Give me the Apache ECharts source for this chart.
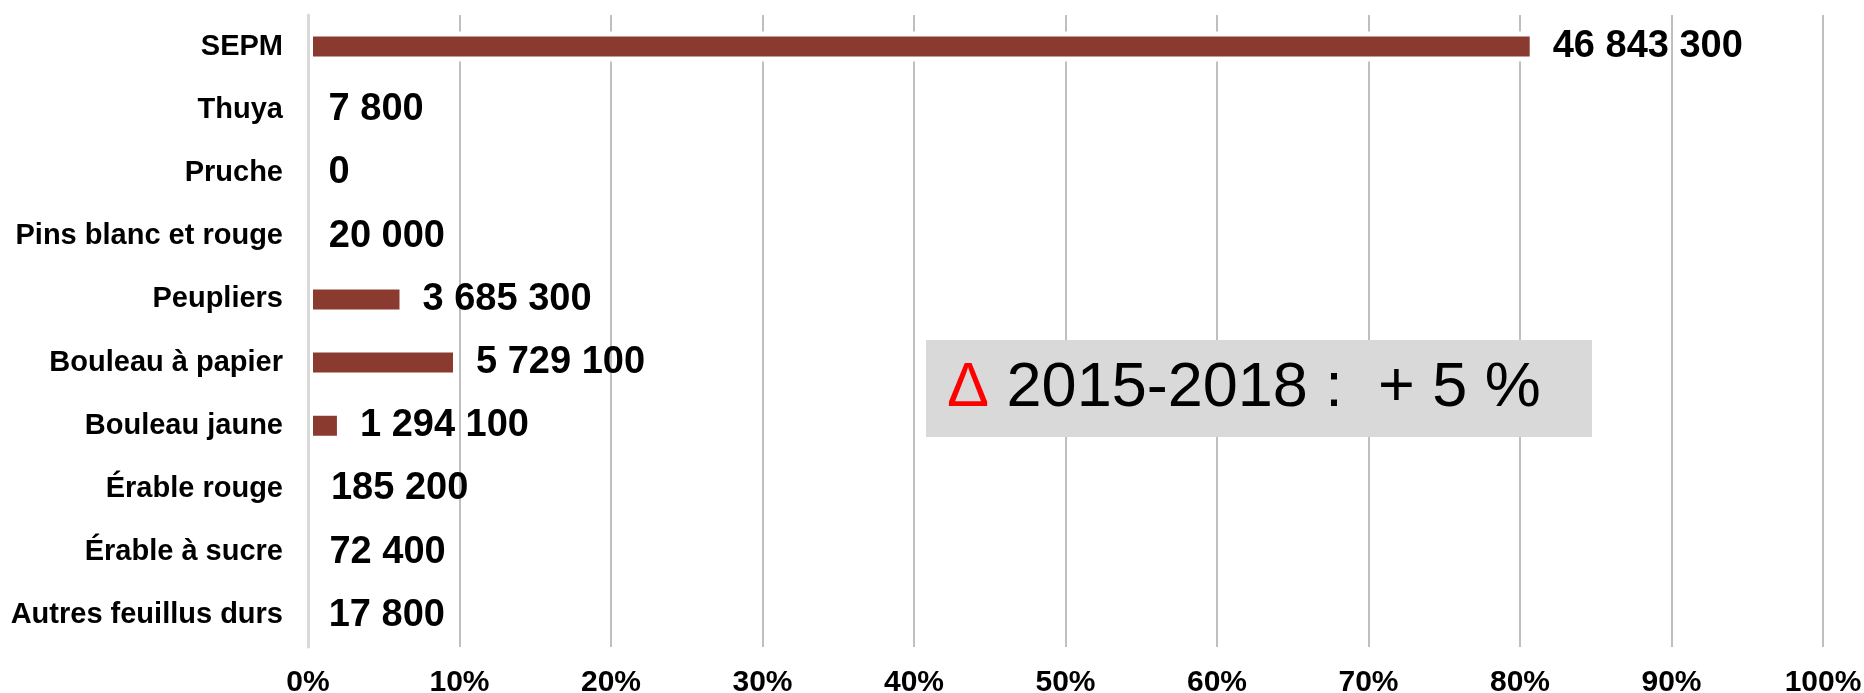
<!DOCTYPE html>
<html>
<head>
<meta charset="utf-8">
<script src="https://cdn.jsdelivr.net/npm/echarts@6/dist/echarts.min.js"></script>
<style>
  html, body { margin: 0; padding: 0; background: #fff; }
  #main { width: 1864px; height: 693px; }
</style>
</head>
<body>
<div id="main"></div>
<script>
// essences, de haut en bas
let categories = ['SEPM', 'Thuya', 'Pruche', 'Pins blanc et rouge', 'Peupliers',
  'Bouleau à papier', 'Bouleau jaune', 'Érable rouge', 'Érable à sucre', 'Autres feuillus durs']
// volumes affichés (m³)
let volumes = [46843300, 7800, 0, 20000, 3685300, 5729100, 1294100, 185200, 72400, 17800]
// part du total (%)
let shares = [80.97, 0.013, 0, 0.035, 6.37, 9.90, 2.24, 0.32, 0.125, 0.031]
let xTicks = [0, 10, 20, 30, 40, 50, 60, 70, 80, 90, 100]

function fmt(n) {
  return String(n).replace(/\B(?=(\d{3})+(?!\d))/g, ' ')
}

let myEchart = echarts.init(document.getElementById('main'))
let font = '"Liberation Sans", Arial, sans-serif'

myEchart.setOption({
  animation: false,
  textStyle: { fontFamily: font },
  grid: { left: 308, right: 41, top: 15, bottom: 46, containLabel: false, outerBoundsMode: 'none' },
  xAxis: {
    type: 'value',
    min: xTicks[0],
    max: xTicks[xTicks.length - 1],
    interval: 10,
    axisLine: { show: false },
    axisTick: { show: false },
    splitLine: { lineStyle: { color: '#bfbfbf', width: 2 } },
    axisLabel: {
      formatter: '{value}%',
      fontSize: 30,
      fontWeight: 'bold',
      color: '#000',
      margin: 21,
      fontFamily: font
    }
  },
  yAxis: {
    type: 'category',
    inverse: true,
    data: categories,
    z: 5,
    axisLine: { lineStyle: { color: '#d9d9d9', width: 3 } },
    axisTick: { length: 9, lineStyle: { color: '#d9d9d9', width: 2 } },
    axisLabel: {
      fontSize: 29,
      fontWeight: 'bold',
      color: '#000',
      margin: 25,
      fontFamily: font
    }
  },
  series: [
    {
      type: 'bar',
      data: shares,
      barWidth: 30,
      itemStyle: { color: '#8b3a2f', borderColor: '#fff', borderWidth: 5 },
      label: {
        show: true,
        position: 'right',
        distance: 18,
        fontSize: 38,
        fontWeight: 'bold',
        color: '#000',
        fontFamily: font,
        formatter: p => fmt(volumes[p.dataIndex])
      }
    }
  ],
  graphic: [
    {
      type: 'rect',
      shape: { x: 926, y: 340, width: 666, height: 97 },
      style: { fill: '#d9d9d9' },
      z: 10
    },
    {
      type: 'text',
      x: 947,
      y: 389,
      z: 11,
      style: {
        text: '{d|Δ} 2015-2018 :  + 5 %',
        font: '63px ' + font,
        fill: '#000',
        verticalAlign: 'middle',
        rich: {
          d: { fill: '#ff0000', fontSize: 63, fontFamily: font }
        }
      }
    }
  ]
})
</script>
</body>
</html>
